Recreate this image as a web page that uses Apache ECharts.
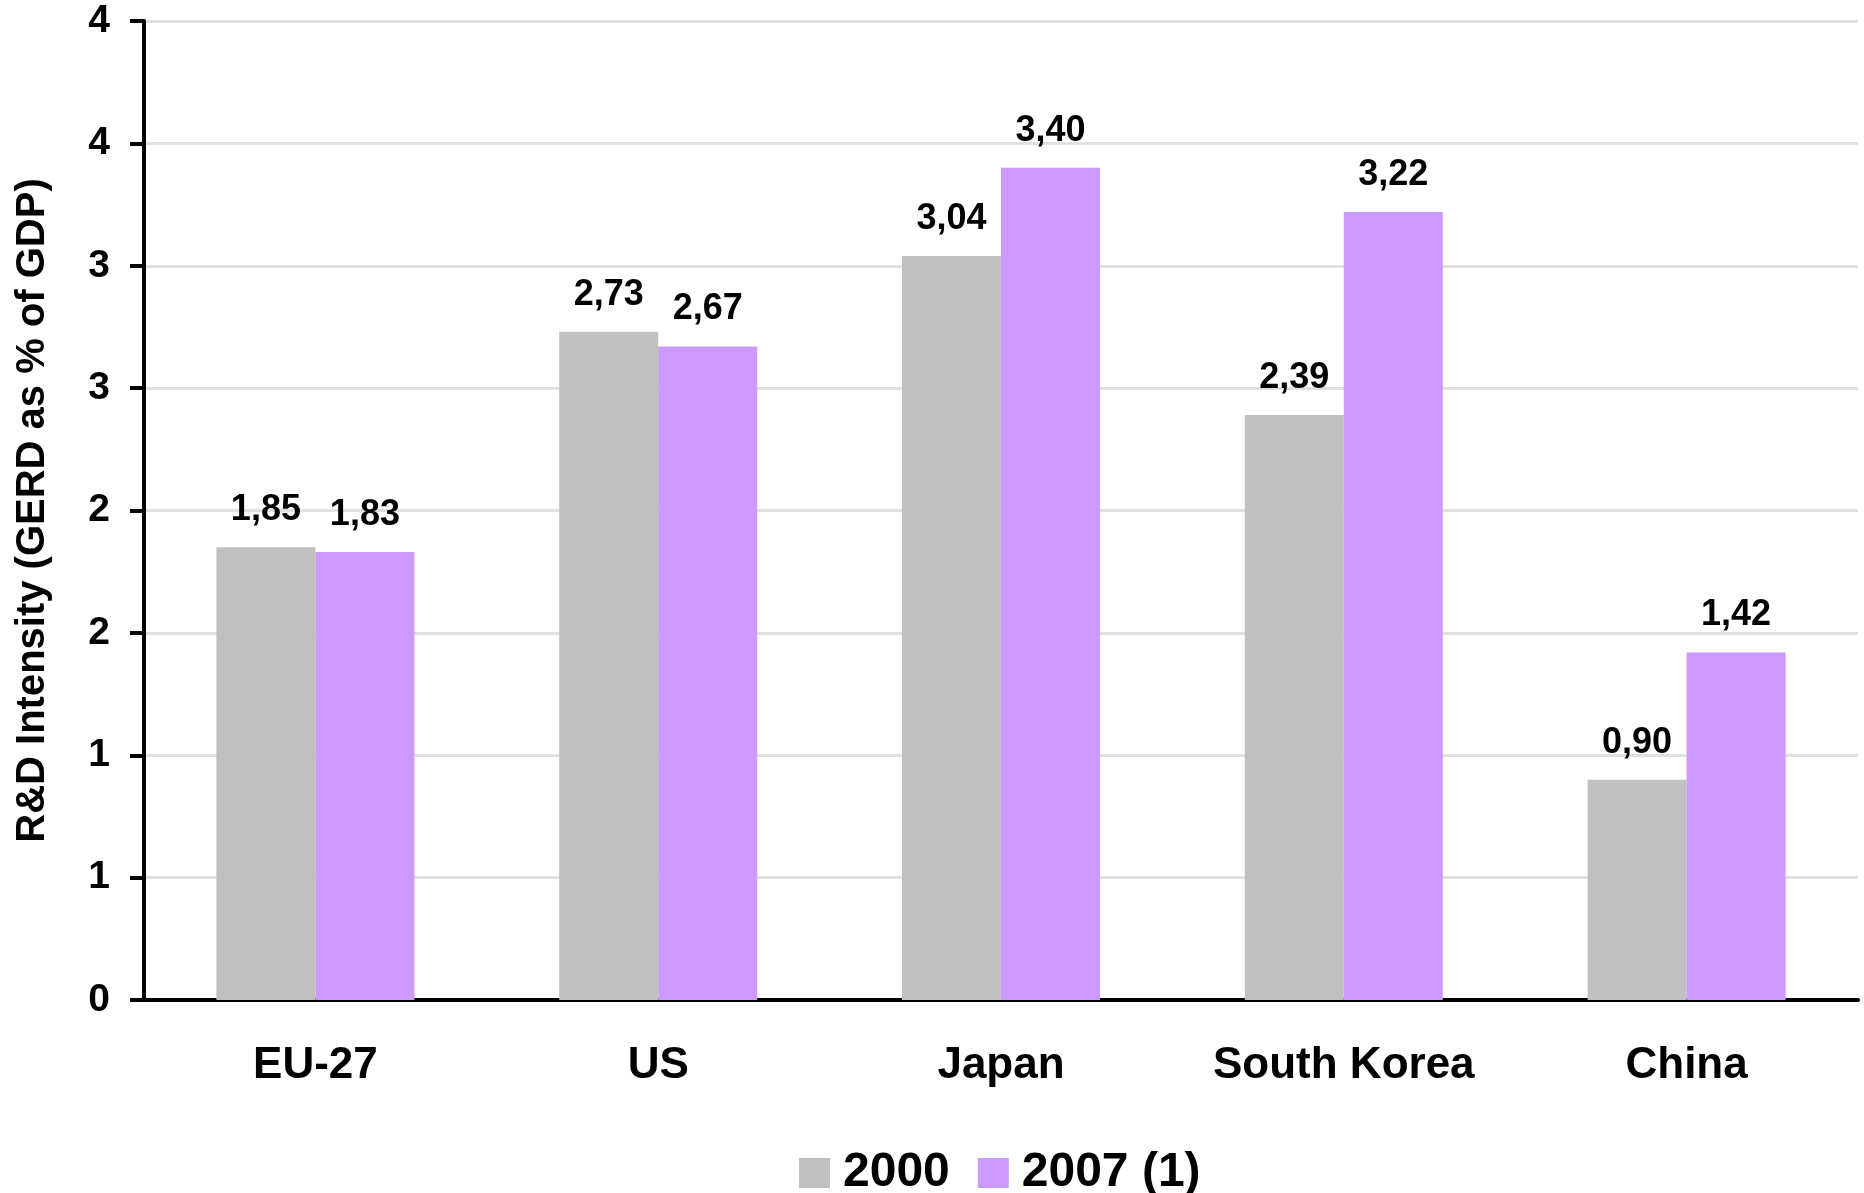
<!DOCTYPE html>
<html>
<head>
<meta charset="utf-8">
<script src="https://cdn.jsdelivr.net/npm/echarts@6/dist/echarts.min.js"></script>
<style>
html,body{margin:0;padding:0;background:#fff;}
#chart{width:1864px;height:1193px;}
</style>
</head>
<body>
<div id="chart"></div>
<script>
const categories = ['EU-27', 'US', 'Japan', 'South Korea', 'China'];
const seriesNames = ['2000', '2007 (1)'];
const values2000 = [1.85, 2.73, 3.04, 2.39, 0.90];
const values2007 = [1.83, 2.67, 3.40, 3.22, 1.42];
const yAxisTitle = 'R&D Intensity (GERD as % of GDP)';

const FONT = "'Liberation Sans', Arial, sans-serif";
const chart = echarts.init(document.getElementById('chart'));
const labelFmt = p => p.value.toFixed(2).replace('.', ',');

chart.setOption({
  animation: false,
  backgroundColor: '#ffffff',
  grid: { left: 144, right: 6, top: 21, bottom: 193, containLabel: false, outerBoundsMode: 'none' },
  legend: {
    data: seriesNames,
    left: 794,
    top: 1144,
    itemWidth: 31,
    itemHeight: 30,
    itemGap: 28,
    icon: 'rect',
    textStyle: { fontFamily: FONT, fontWeight: 'bold', fontSize: 48, color: '#000', padding: [0, 0, 0, 8] }
  },
  xAxis: {
    type: 'category',
    data: categories,
    axisLine: { show: true, lineStyle: { color: '#000', width: 4 } },
    axisTick: { show: false },
    axisLabel: { margin: 44, fontFamily: FONT, fontWeight: 'bold', fontSize: 44, color: '#000' },
    splitLine: { show: false }
  },
  yAxis: {
    type: 'value',
    min: 0,
    max: 4,
    interval: 0.5,
    name: yAxisTitle,
    nameLocation: 'middle',
    nameGap: 91,
    nameRotate: 90,
    nameTextStyle: { fontFamily: FONT, fontWeight: 'bold', fontSize: 40, color: '#000' },
    axisLine: { show: true, lineStyle: { color: '#000', width: 4 } },
    axisTick: { show: true, length: 14, lineStyle: { color: '#000', width: 4 } },
    axisLabel: {
      margin: 34,
      fontFamily: FONT, fontWeight: 'bold', fontSize: 39, color: '#000',
      formatter: v => String(Math.round(v))
    },
    splitLine: { show: true, lineStyle: { color: '#e0e0e0', width: 3 } }
  },
  series: [
    {
      name: seriesNames[0],
      type: 'bar',
      data: values2000,
      barWidth: 99,
      barGap: '0%',
      itemStyle: { color: '#c0c0c0' },
      label: { show: true, position: 'top', distance: 19, formatter: labelFmt,
        fontFamily: FONT, fontWeight: 'bold', fontSize: 36, color: '#000' }
    },
    {
      name: seriesNames[1],
      type: 'bar',
      data: values2007,
      barWidth: 99,
      barGap: '0%',
      itemStyle: { color: '#cc99ff' },
      label: { show: true, position: 'top', distance: 19, formatter: labelFmt,
        fontFamily: FONT, fontWeight: 'bold', fontSize: 36, color: '#000' }
    }
  ]
});
</script>
</body>
</html>
